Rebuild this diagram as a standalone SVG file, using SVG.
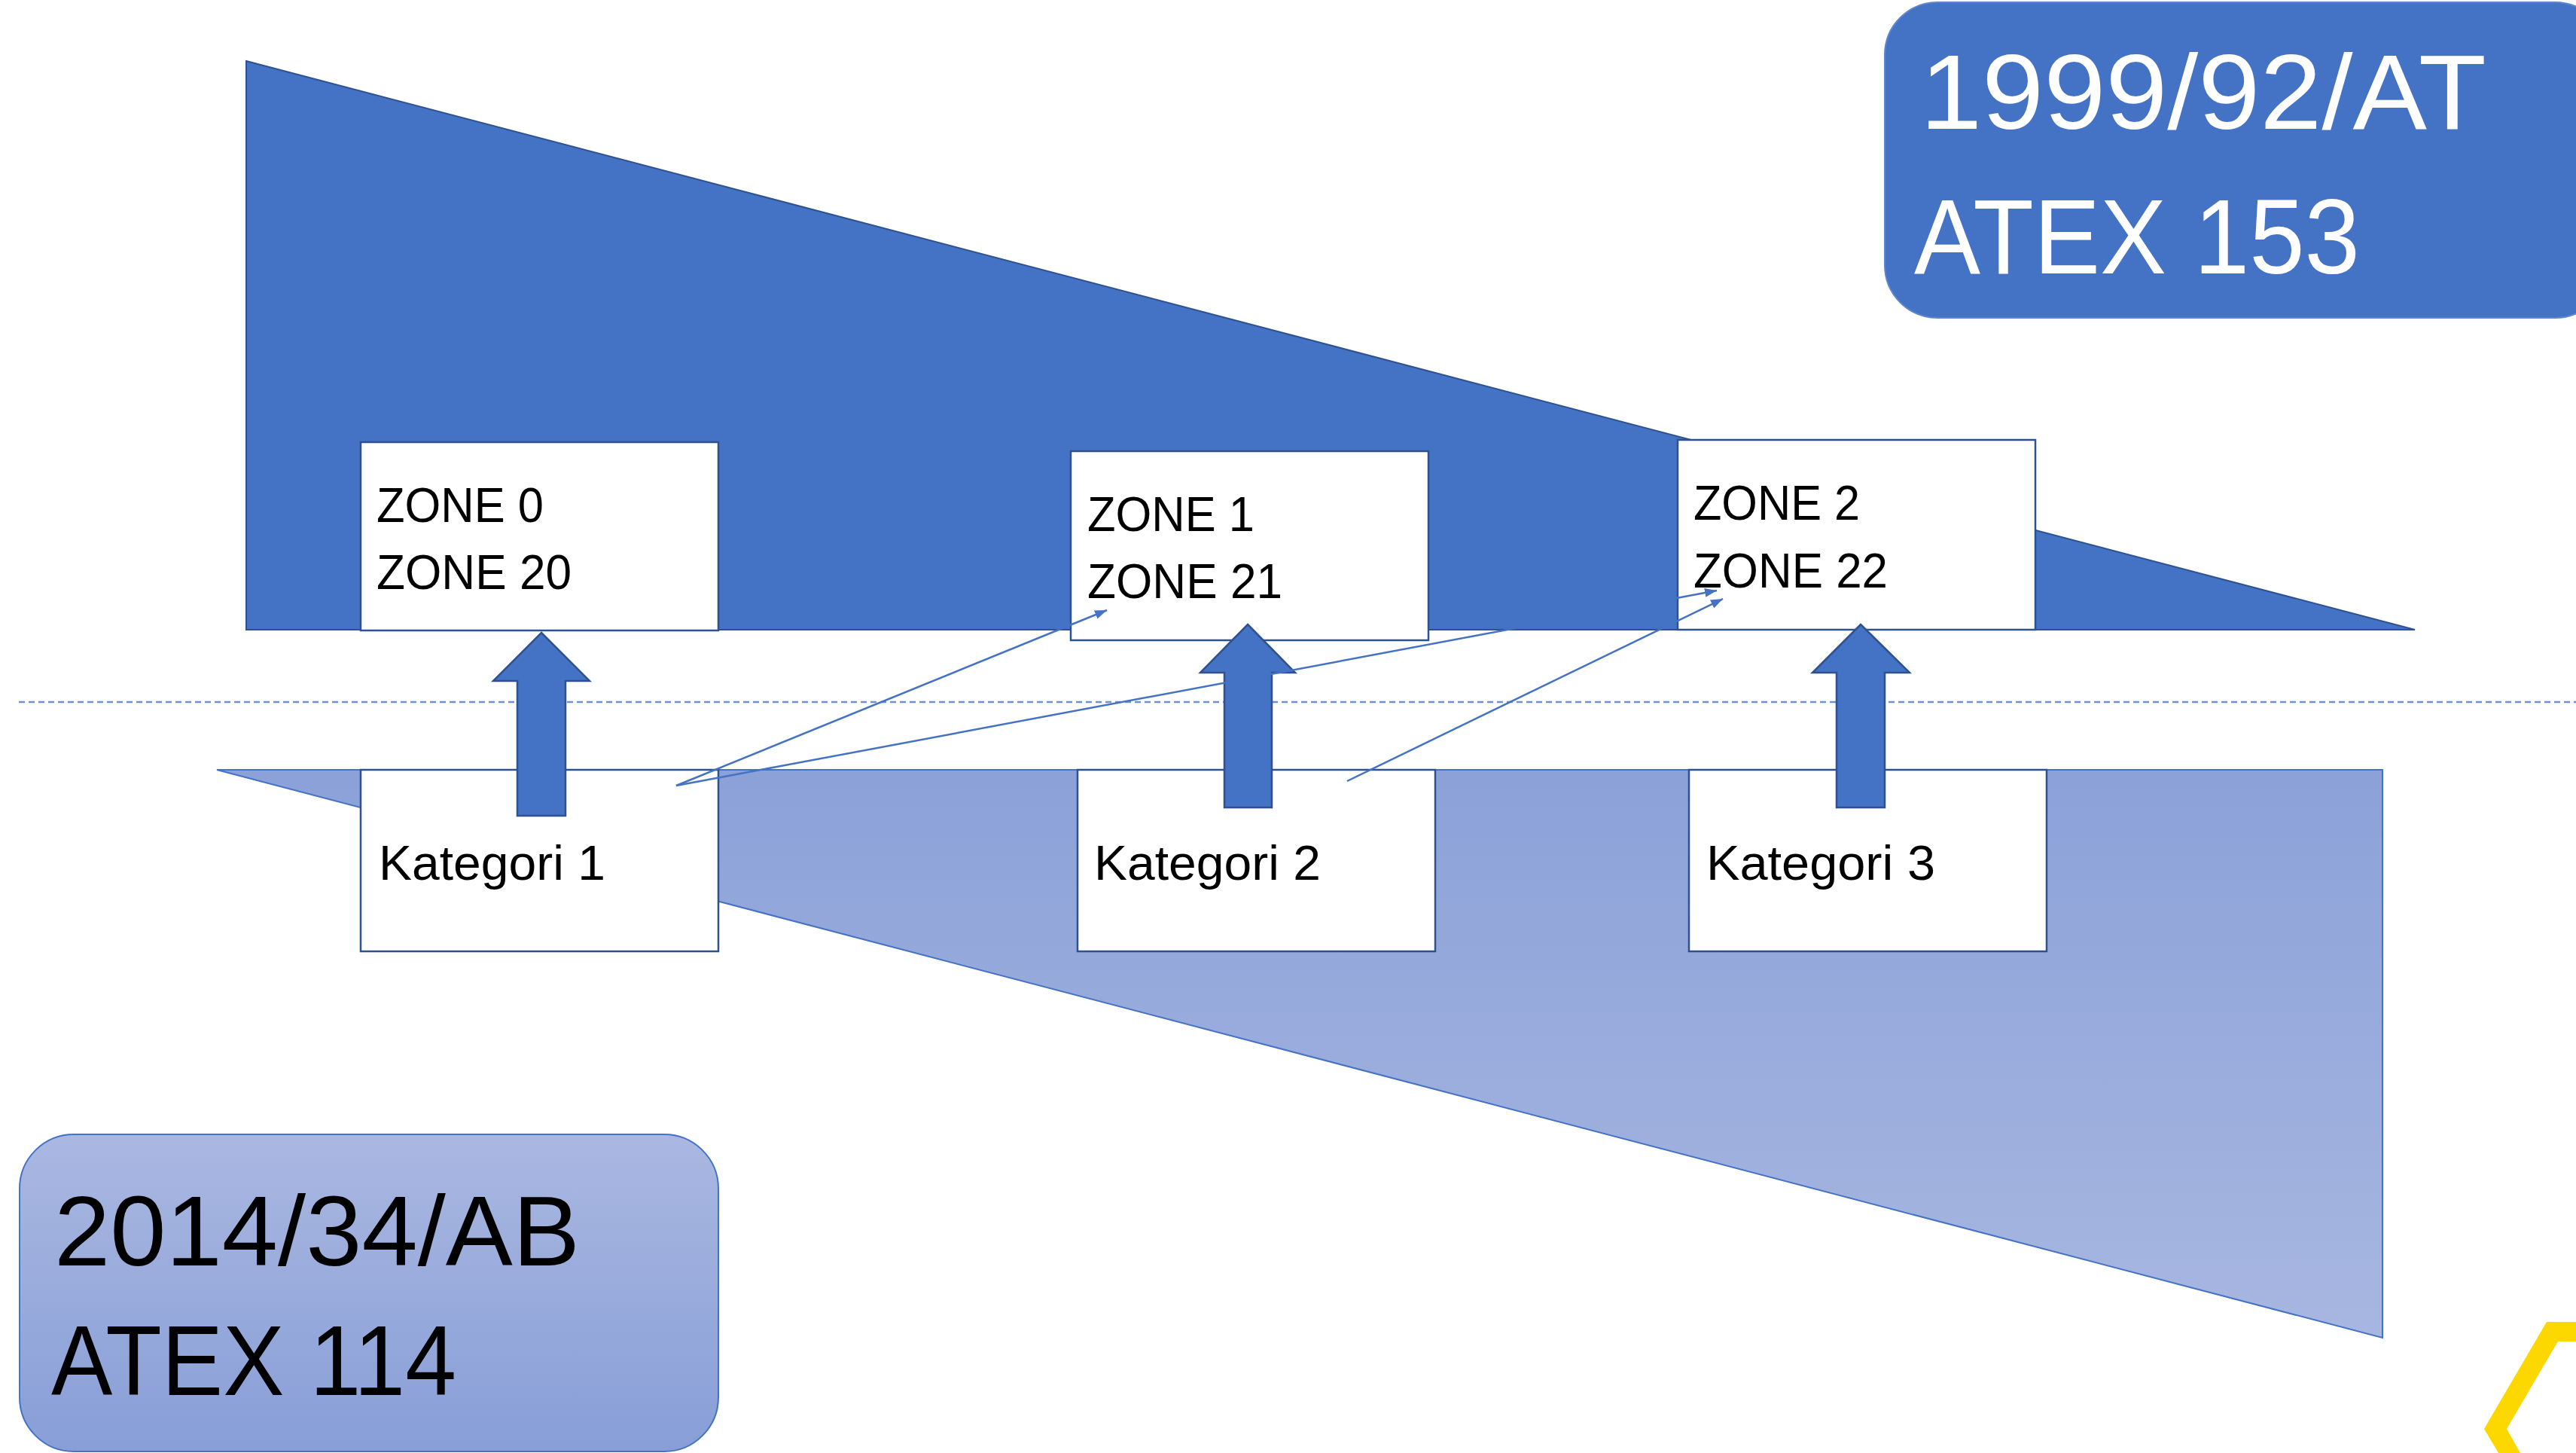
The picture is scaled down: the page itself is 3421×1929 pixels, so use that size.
<svg xmlns="http://www.w3.org/2000/svg" width="3421" height="1929" viewBox="0 0 3421 1929">
  <defs>
    <linearGradient id="gTri" x1="0" y1="0" x2="0" y2="1">
      <stop offset="0" stop-color="#8BA1D8"/>
      <stop offset="1" stop-color="#A8B7E1"/>
    </linearGradient>
    <linearGradient id="gBox" x1="0" y1="0" x2="0" y2="1">
      <stop offset="0" stop-color="#AAB8E1"/>
      <stop offset="1" stop-color="#889ED7"/>
    </linearGradient>
    <marker id="ah" markerUnits="userSpaceOnUse" markerWidth="18" markerHeight="14" refX="16" refY="6" orient="auto">
      <path d="M0,0 L16,6 L0,12 z" fill="#4472C4"/>
    </marker>
    <style>
      .box { fill: #ffffff; stroke: #2F528F; stroke-width: 2.5; }
      .lbl { font-family: "Liberation Sans", Arial, sans-serif; font-size: 65px; fill: #000000; }
      .blk { fill: #4472C4; stroke: #2F528F; stroke-width: 2.5; }
      .con { fill: none; stroke: #4472C4; stroke-width: 2.5; marker-end: url(#ah); }
      .big { font-family: "Liberation Sans", Arial, sans-serif; }
    </style>
  </defs>

  <rect width="3421" height="1929" fill="#ffffff"/>

  <!-- background shapes -->
  <polygon id="topTriangle" points="327,81 3207,836 327,836" fill="#4472C4" stroke="#2F528F" stroke-width="2"/>
  <polygon id="bottomTriangle" points="288,1022 3164,1022 3164,1776" fill="url(#gTri)" stroke="#4472C4" stroke-width="2"/>
  <line id="divider" x1="25" y1="932" x2="3421" y2="932" stroke="#6F92D4" stroke-width="2.5" stroke-dasharray="8,5"/>

  <!-- zone nodes -->
  <g id="zone0">
    <rect class="box" x="479" y="587" width="475" height="250"/>
    <text class="lbl" x="500" y="693" textLength="222" lengthAdjust="spacingAndGlyphs">ZONE 0</text>
    <text class="lbl" x="500" y="782" textLength="259" lengthAdjust="spacingAndGlyphs">ZONE 20</text>
  </g>
  <g id="zone1">
    <rect class="box" x="1422" y="599" width="475" height="251"/>
    <text class="lbl" x="1444" y="705" textLength="222" lengthAdjust="spacingAndGlyphs">ZONE 1</text>
    <text class="lbl" x="1444" y="794" textLength="259" lengthAdjust="spacingAndGlyphs">ZONE 21</text>
  </g>
  <g id="zone2">
    <rect class="box" x="2228" y="584" width="475" height="252"/>
    <text class="lbl" x="2249" y="690" textLength="221" lengthAdjust="spacingAndGlyphs">ZONE 2</text>
    <text class="lbl" x="2249" y="780" textLength="258" lengthAdjust="spacingAndGlyphs">ZONE 22</text>
  </g>

  <!-- kategori nodes -->
  <g id="kategori1">
    <rect class="box" x="479" y="1022" width="475" height="241"/>
    <text class="lbl" x="503" y="1168" textLength="301" lengthAdjust="spacingAndGlyphs">Kategori 1</text>
  </g>
  <g id="kategori2">
    <rect class="box" x="1431" y="1022" width="475" height="241"/>
    <text class="lbl" x="1453" y="1168" textLength="301" lengthAdjust="spacingAndGlyphs">Kategori 2</text>
  </g>
  <g id="kategori3">
    <rect class="box" x="2243" y="1022" width="475" height="241"/>
    <text class="lbl" x="2266" y="1168" textLength="304" lengthAdjust="spacingAndGlyphs">Kategori 3</text>
  </g>

  <!-- connectors -->
  <g id="connectors">
    <polygon class="blk" points="719,840 783,904 751,904 751,1083 687,1083 687,904 655,904"/>
    <polygon class="blk" points="1657,829 1720,893 1689,893 1689,1072 1626,1072 1626,893 1594,893"/>
    <polygon class="blk" points="2471,829 2536,893 2503,893 2503,1072 2439,1072 2439,893 2407,893"/>
    <line class="con" x1="898" y1="1043" x2="1470" y2="810"/>
    <line class="con" x1="898" y1="1043" x2="2280" y2="784"/>
    <line class="con" x1="1789" y1="1037" x2="2288" y2="795"/>
  </g>

  <!-- directive labels -->
  <g id="directive1999">
    <rect x="2503" y="3" width="960" height="419" rx="70" ry="70" fill="#4472C4" stroke="#5E86CC" stroke-width="2"/>
    <text class="big" x="2550" y="171" font-size="141" fill="#ffffff" textLength="752" lengthAdjust="spacingAndGlyphs">1999/92/AT</text>
    <text class="big" x="2542" y="363" font-size="141" fill="#ffffff" textLength="592" lengthAdjust="spacingAndGlyphs">ATEX 153</text>
  </g>
  <g id="directive2014">
    <rect x="26" y="1506" width="928" height="421" rx="72" ry="72" fill="url(#gBox)" stroke="#4472C4" stroke-width="2"/>
    <text class="big" x="72" y="1680" font-size="132" fill="#000000" textLength="698" lengthAdjust="spacingAndGlyphs">2014/34/AB</text>
    <text class="big" x="68" y="1852" font-size="132" fill="#000000" textLength="538" lengthAdjust="spacingAndGlyphs">ATEX 114</text>
  </g>

  <!-- yellow corner mark -->
  <polygon id="cornerMark" points="3421,1755 3382,1755 3299,1897 3318,1929 3347,1929 3329,1897 3397,1781 3421,1781" fill="#FDD800"/>
</svg>
